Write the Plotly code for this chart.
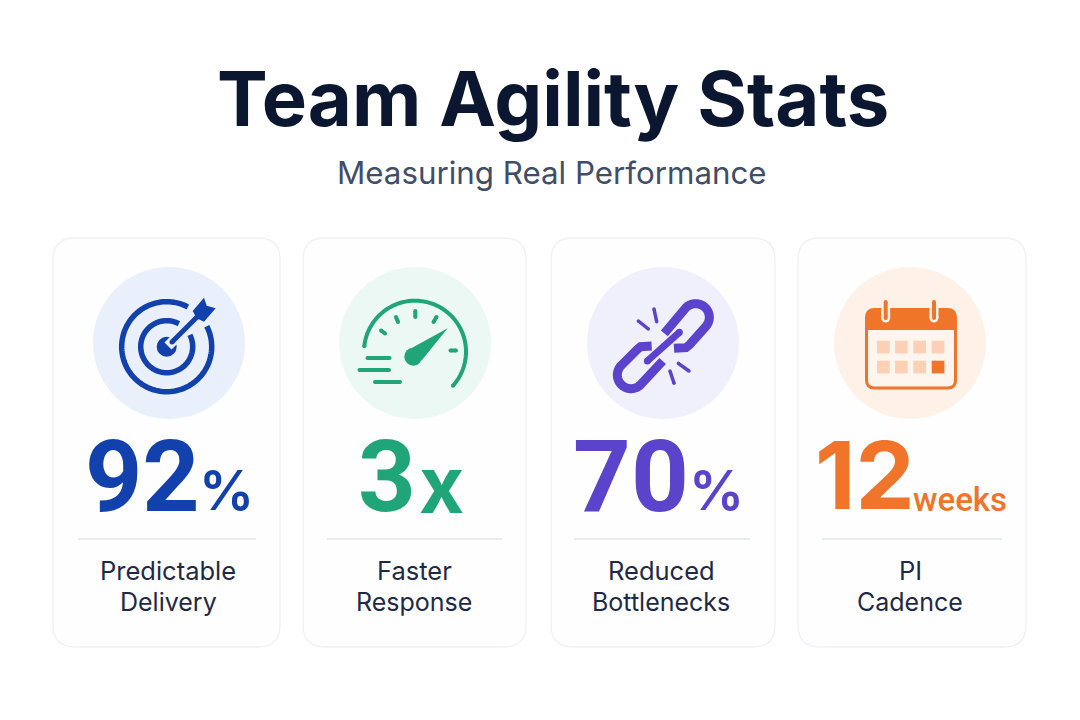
import numpy as np
import plotly.graph_objects as go

# 卡片内容
stat_values = [92, 3, 70, 12]
stat_units = ["%", "x", "%", "weeks"]
label_top = ["Predictable", "Faster", "Reduced", "PI"]
label_bottom = ["Delivery", "Response", "Bottlenecks", "Cadence"]
title_text = "Team Agility Stats"
subtitle_text = "Measuring Real Performance"

main_colors = ["#1241ad", "#20a579", "#5b43cc", "#f0742a"]
soft_colors = ["#e9f0fb", "#ecf8f3", "#f0effc", "#fdf1e8"]

# 版面位置（像素）
card_left = [53, 303, 551, 798]
card_right = [280, 526, 775, 1026]
circle_x = [169, 415, 663, 910]
rule_left = [78, 327, 574, 822]
rule_right = [256, 502, 750, 1002]
label_x = [168, 414, 661, 910]
number_x = [84, 357, 572, 814]
number_y = [476, 476, 476, 475]
number_size = [100, 101, 101, 94]
number_font = ["Roboto", "Roboto", "Roboto", "Inter"]
unit_x = [198, 418, 688, 912]
unit_y = [490, 484, 490, 499]
unit_size = [55, 78, 55, 33]
unit_weight = [600, 700, 600, 500]
unit_font = ["Inter", "Inter", "Inter", "Roboto"]

shapes = []


def fill_path(path, color):
    shapes.append(dict(type="path", path=path, fillcolor=color, line=dict(width=0),
                       xref="x", yref="y", layer="above"))


def stroke_path(path, color, width):
    shapes.append(dict(type="path", path=path, line=dict(color=color, width=width),
                       xref="x", yref="y", layer="above"))


def dot(cx, cy, r, color):
    shapes.append(dict(type="circle", x0=cx - r, x1=cx + r, y0=cy - r, y1=cy + r,
                       fillcolor=color, line=dict(width=0), xref="x", yref="y", layer="above"))


def round_line(x0, y0, x1, y1, w, color):
    # 圆头线段
    stroke_path(f"M {x0} {y0} L {x1} {y1}", color, w)
    dot(x0, y0, w / 2, color)
    dot(x1, y1, w / 2, color)


def arc_points(cx, cy, r, a0, a1, n=60):
    a = np.radians(np.linspace(a0, a1, n))
    return list(zip(cx + r * np.cos(a), cy - r * np.sin(a)))


def poly(points, close=False):
    s = "M " + " L ".join(f"{x:.2f} {y:.2f}" for x, y in points)
    return s + " Z" if close else s


def rrect(x0, y0, x1, y1, r):
    return (f"M {x0 + r} {y0} L {x1 - r} {y0} Q {x1} {y0} {x1} {y0 + r} "
            f"L {x1} {y1 - r} Q {x1} {y1} {x1 - r} {y1} L {x0 + r} {y1} "
            f"Q {x0} {y1} {x0} {y1 - r} L {x0} {y0 + r} Q {x0} {y0} {x0 + r} {y0} Z")


def round_arc(cx, cy, r, a0, a1, w, color):
    pts = arc_points(cx, cy, r, a0, a1)
    stroke_path(poly(pts), color, w)
    dot(pts[0][0], pts[0][1], w / 2, color)
    dot(pts[-1][0], pts[-1][1], w / 2, color)


def draw_target(color, bg):
    cx, cy = 166.7, 346.7
    stroke_path(poly(arc_points(cx, cy, 45, 62, 387, 120)), color, 5.5)
    stroke_path(poly(arc_points(cx, cy, 26, 62, 387, 90)), color, 5.5)
    dot(cx, cy, 10, color)
    stroke_path("M 168 346 L 196 318", bg, 10)
    round_line(172, 342, 197, 317, 5, color)
    fill_path(poly([(192.7, 311), (204, 297.7), (206.7, 305.7), (215.7, 308.3),
                    (204, 321.7), (196.7, 318.3)], True), color)


def draw_gauge(color):
    cx, cy = 415, 351.7
    round_arc(cx, cy, 51, 174, -42, 4, color)
    ticks = [(381, 330.5, 385, 333.5), (396, 317, 398, 322), (415.3, 311, 415.3, 317),
             (436.5, 317, 433.5, 322), (450.5, 350.5, 456, 350.5)]
    for t in ticks:
        round_line(t[0], t[1], t[2], t[3], 4, color)
    dot(413.3, 356.7, 9, color)
    fill_path(poly([(408, 350), (447.7, 328.3), (422, 360)], True), color)
    round_line(367.5, 358, 389.5, 358, 4, color)
    round_line(359.5, 370, 389, 370, 4, color)
    round_line(375, 382, 400, 382, 4, color)


def draw_link(color):
    ox, oy = 550, 235

    def z(x, y):
        return (ox + x / 3, oy + y / 3)

    lower = arc_points(243, 420, 41, 135, 315)
    upper = arc_points(437, 247, 41, 135, -45)
    lower_pts = [z(305, 333), z(272, 335), z(262, 343)] + [z(x, y) for x, y in lower] + [z(338, 378)]
    upper_pts = [z(343, 295)] + [z(x, y) for x, y in upper] + [z(420, 328), z(408, 338), z(372, 340)]
    stroke_path(poly(lower_pts), color, 9)
    stroke_path(poly(upper_pts), color, 9)
    round_line(*z(292, 378), *z(388, 292), 7, color)
    for a, b in [((265, 258), (295, 282)), ((312, 222), (320, 260)),
                 ((385, 385), (417, 408)), ((360, 408), (372, 445))]:
        round_line(*z(*a), *z(*b), 3.5, color)


def draw_calendar(color, bg):
    fill_path(rrect(866, 309, 956, 388.5, 8), "#fdf5ee")
    stroke_path(rrect(866.5, 309.5, 955.5, 388, 8), color, 3)
    fill_path(f"M 866 330 L 866 317 Q 866 309 874 309 L 948 309 Q 956 309 956 317 L 956 330 Z", color)
    for x in [885.7, 934]:
        stroke_path(f"M {x} 302 L {x} 318", bg, 9)
        dot(x, 318, 4.5, bg)
        round_line(x, 302, x, 318, 4, color)
    for row, y in enumerate([340.7, 360.7]):
        for col, x in enumerate([877, 895, 913.3, 931.7]):
            c = color if row == 1 and col == 3 else "#fcd0b4"
            shapes.append(dict(type="rect", x0=x, x1=x + 12.7, y0=y, y1=y + 12.7, fillcolor=c,
                               line=dict(width=0), xref="x", yref="y", layer="above"))


# 卡片、圆形底色、分隔线
for i in range(4):
    shapes.append(dict(type="path", path=rrect(card_left[i], 238, card_right[i], 647, 22),
                       fillcolor="#fefeff", line=dict(color="#f0f1f4", width=1.3),
                       xref="x", yref="y", layer="below"))
    dot(circle_x[i], 343, 76, soft_colors[i])
    shapes.append(dict(type="line", x0=rule_left[i], x1=rule_right[i], y0=539, y1=539,
                       line=dict(color="#dfe3ea", width=1.4), xref="x", yref="y", layer="above"))

draw_target(main_colors[0], soft_colors[0])
draw_gauge(main_colors[1])
draw_link(main_colors[2])
draw_calendar(main_colors[3], soft_colors[3])

annotations = []


def add_text(x, y, text, size, color, weight=400, anchor="center", family="Inter"):
    annotations.append(dict(x=x, y=y, text=text, showarrow=False, xanchor=anchor, yanchor="middle",
                            xref="x", yref="y", borderpad=0,
                            font=dict(family=family, size=size, color=color, weight=weight)))


add_text(553, 98, title_text, 76, "#0b1730", 700)
add_text(552, 173, subtitle_text, 31.3, "#3f4d68", 400)

for i in range(4):
    add_text(number_x[i], number_y[i], str(stat_values[i]), number_size[i], main_colors[i], 700, "left", number_font[i])
    add_text(unit_x[i], unit_y[i], stat_units[i], unit_size[i], main_colors[i], unit_weight[i], "left", unit_font[i])
    add_text(label_x[i], 570, label_top[i], 25.5, "#1e2a45", 400)
    add_text(label_x[i], 602, label_bottom[i], 25, "#1e2a45", 400)

fig = go.Figure()
fig.update_layout(
    width=1064,
    height=704,
    margin=dict(l=0, r=0, t=0, b=0),
    paper_bgcolor="#ffffff",
    plot_bgcolor="#ffffff",
    showlegend=False,
    shapes=shapes,
    annotations=annotations,
    # 页面 body 默认有 8px 边距，这里用坐标范围抵消
    xaxis=dict(range=[8, 1072], visible=False, fixedrange=True),
    yaxis=dict(range=[712, 8], visible=False, fixedrange=True),
)

fig.write_html("out.html")
